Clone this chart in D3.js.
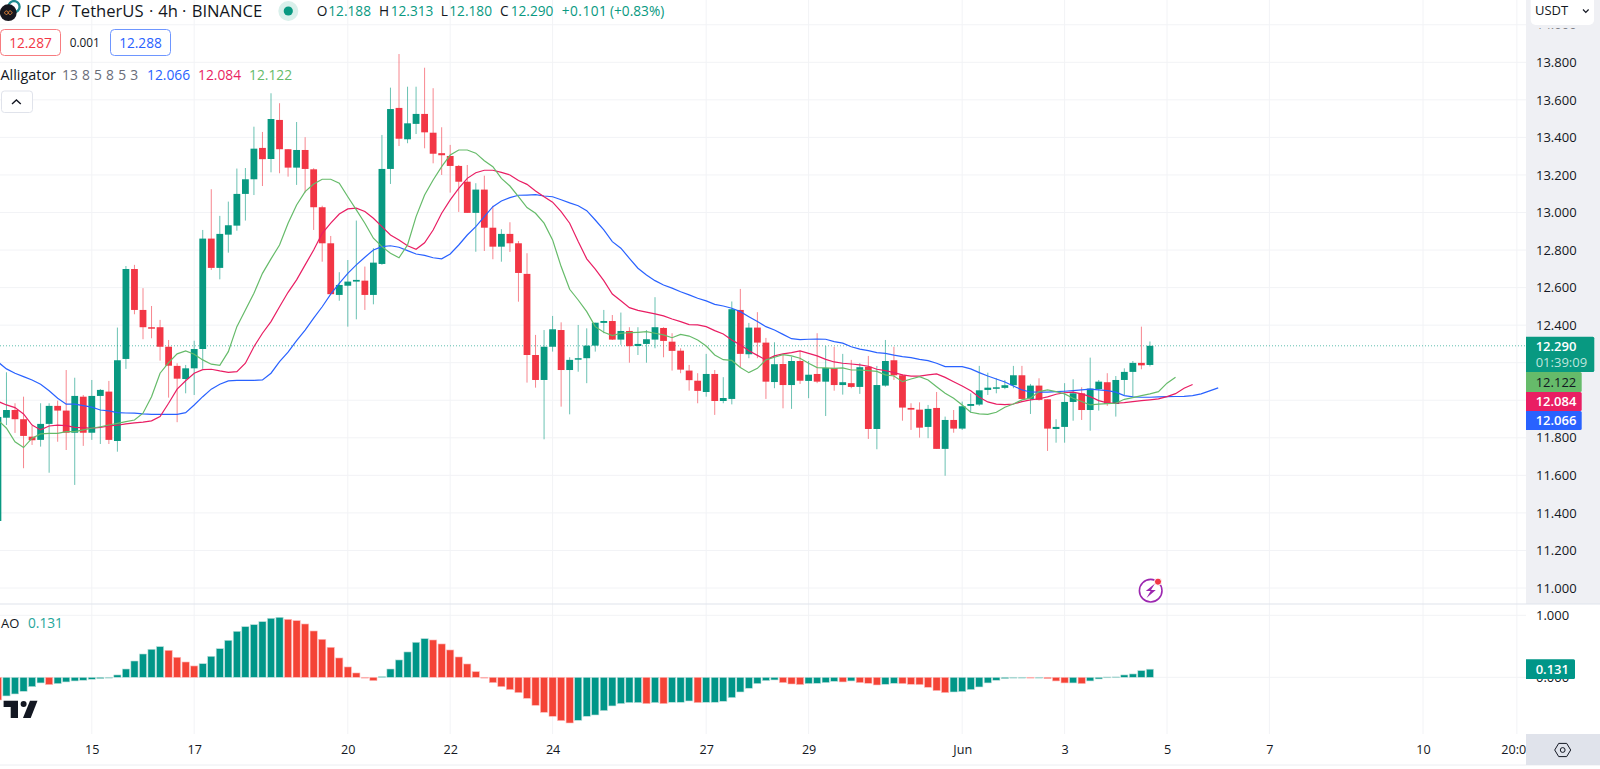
<!DOCTYPE html>
<html>
<head>
<meta charset="utf-8">
<title>ICP / TetherUS 4h</title>
<script src="https://cdn.jsdelivr.net/npm/d3@7"></script>
<style>
    html, body { margin: 0; padding: 0; background: #fff; overflow: hidden; }
    text { font-family: "Open Sans", "Noto Sans", sans-serif; }
</style>
</head>
<body>
<svg id="chart" width="1600" height="769"></svg>
<script>
// bar numbers are counted from the 15th, one bar is 4h
let firstBar = -11

let opens = [11.357, 11.907, 11.948, 11.899, 11.806, 11.789, 11.874, 11.970, 11.945, 11.827, 12.019,
    11.827, 12.023, 12.046, 11.783, 12.220, 12.699, 12.481, 12.389, 12.389, 12.285, 12.183, 12.113, 12.170, 12.273,
    12.861, 12.705, 12.882, 12.930, 13.099, 13.177, 13.344, 13.285, 13.493, 13.337, 13.239, 13.333, 13.230, 13.028,
    12.836, 12.561, 12.610, 12.632, 12.637, 12.561, 12.726, 13.232, 13.557, 13.390, 13.472, 13.525, 13.425, 13.316,
    13.301, 13.248, 13.164, 12.998, 13.122, 12.919, 12.818, 12.886, 12.836, 12.673, 12.241, 12.108, 12.285, 12.374,
    12.161, 12.216, 12.224, 12.291, 12.412, 12.422, 12.323, 12.369, 12.289, 12.300, 12.323, 12.385, 12.312, 12.264,
    12.158, 12.104, 12.044, 12.140, 11.996, 12.007, 12.481, 12.245, 12.387, 12.307, 12.097, 12.193, 12.081, 12.209,
    12.103, 12.140, 12.099, 12.172, 12.081, 12.091, 12.071, 12.179, 11.847, 12.078, 12.213, 12.133, 11.959, 11.950,
    11.858, 11.959, 11.741, 11.895, 11.849, 11.970, 11.977, 12.055, 12.064, 12.066, 12.080, 12.133, 12.007, 12.078,
    12.005, 11.847, 11.858, 11.991, 12.037, 11.948, 12.060, 12.096, 11.980, 12.108, 12.151, 12.199, 12.188]

let highs = [11.932, 12.149, 11.984, 12.019, 11.863, 11.984, 11.984, 11.998, 12.161, 12.120, 12.028,
    12.108, 12.060, 12.103, 12.387, 12.715, 12.721, 12.597, 12.502, 12.428, 12.321, 12.197, 12.188, 12.317, 12.907,
    13.124, 12.982, 13.058, 13.234, 13.237, 13.457, 13.429, 13.635, 13.582, 13.337, 13.482, 13.401, 13.236, 13.036,
    12.875, 12.682, 12.747, 12.957, 12.712, 12.810, 13.413, 13.665, 13.844, 13.670, 13.670, 13.771, 13.662, 13.454,
    13.360, 13.253, 13.253, 13.156, 13.196, 13.036, 12.911, 12.948, 12.848, 12.783, 12.348, 12.374, 12.449, 12.415,
    12.229, 12.401, 12.383, 12.413, 12.481, 12.454, 12.467, 12.389, 12.389, 12.374, 12.549, 12.389, 12.357, 12.277,
    12.188, 12.144, 12.247, 12.161, 12.123, 12.526, 12.593, 12.412, 12.469, 12.332, 12.309, 12.241, 12.232, 12.264,
    12.209, 12.357, 12.289, 12.285, 12.247, 12.215, 12.197, 12.236, 12.183, 12.321, 12.285, 12.139, 11.984, 11.989,
    11.975, 12.044, 11.913, 11.948, 11.993, 12.037, 12.183, 12.147, 12.117, 12.108, 12.183, 12.183, 12.087, 12.117,
    12.005, 11.899, 12.091, 12.112, 12.069, 12.227, 12.108, 12.144, 12.129, 12.170, 12.209, 12.392, 12.313]

let lows = [11.357, 11.868, 11.826, 11.638, 11.762, 11.753, 11.614, 11.779, 11.735, 11.549, 11.757,
    11.789, 11.767, 11.767, 11.726, 12.167, 12.458, 12.325, 12.330, 12.211, 12.014, 11.883, 12.037, 12.028, 12.167,
    12.694, 12.644, 12.786, 12.903, 12.957, 13.093, 13.141, 13.214, 13.209, 13.191, 13.147, 13.106, 12.907, 12.738,
    12.565, 12.530, 12.392, 12.431, 12.481, 12.511, 12.721, 13.152, 13.354, 13.369, 13.418, 13.342, 13.262, 13.200,
    13.106, 13.003, 12.998, 12.791, 12.795, 12.751, 12.738, 12.790, 12.525, 12.094, 12.067, 11.792, 12.259, 11.966,
    11.925, 12.152, 12.091, 12.259, 12.357, 12.321, 12.295, 12.200, 12.241, 12.200, 12.277, 12.229, 12.158, 12.144,
    12.051, 11.984, 12.019, 11.922, 11.984, 11.978, 12.174, 12.224, 12.224, 12.007, 12.064, 11.957, 11.954, 12.087,
    12.011, 12.091, 11.916, 12.051, 12.030, 12.064, 12.034, 11.794, 11.739, 12.072, 12.108, 11.891, 11.842, 11.801,
    11.798, 11.741, 11.598, 11.827, 11.842, 11.934, 11.970, 12.028, 12.037, 12.059, 12.064, 12.007, 11.927, 11.998,
    11.730, 11.774, 11.774, 11.891, 11.895, 11.838, 11.945, 11.970, 11.913, 12.028, 12.016, 12.165, 12.180]

let closes = [11.911, 11.948, 11.899, 11.810, 11.787, 11.874, 11.970, 11.945, 11.827, 12.023, 11.827,
    12.023, 12.055, 11.789, 12.213, 12.699, 12.481, 12.389, 12.385, 12.285, 12.184, 12.115, 12.170, 12.273, 12.861,
    12.705, 12.886, 12.932, 13.099, 13.177, 13.340, 13.284, 13.498, 13.337, 13.239, 13.333, 13.232, 13.028, 12.836,
    12.565, 12.614, 12.632, 12.641, 12.561, 12.733, 13.232, 13.551, 13.393, 13.475, 13.525, 13.427, 13.313, 13.305,
    13.248, 13.164, 12.998, 13.122, 12.919, 12.818, 12.886, 12.836, 12.678, 12.241, 12.108, 12.285, 12.378, 12.161,
    12.215, 12.224, 12.291, 12.413, 12.422, 12.323, 12.369, 12.288, 12.300, 12.325, 12.389, 12.316, 12.263, 12.163,
    12.107, 12.050, 12.140, 11.996, 12.012, 12.485, 12.247, 12.387, 12.307, 12.099, 12.192, 12.081, 12.209, 12.104,
    12.136, 12.099, 12.172, 12.081, 12.096, 12.071, 12.176, 11.847, 12.081, 12.209, 12.133, 11.961, 11.950, 11.854,
    11.954, 11.741, 11.895, 11.849, 11.968, 11.980, 12.053, 12.067, 12.069, 12.080, 12.133, 12.007, 12.078, 12.002,
    11.849, 11.858, 11.991, 12.037, 11.948, 12.062, 12.099, 11.980, 12.108, 12.151, 12.199, 12.186, 12.290]

// Alligator lines, they run past the last bar because of their offsets
let jaw = [12.204, 12.167, 12.144, 12.126, 12.108, 12.085, 12.051, 12.011, 11.979, 11.979, 11.971,
    11.963, 11.948, 11.943, 11.934, 11.932, 11.931, 11.927, 11.925, 11.925, 11.925, 11.925, 11.934, 11.975, 12.019,
    12.059, 12.085, 12.103, 12.106, 12.106, 12.106, 12.108, 12.144, 12.206, 12.256, 12.317, 12.374, 12.437, 12.498,
    12.565, 12.623, 12.676, 12.721, 12.762, 12.800, 12.818, 12.823, 12.815, 12.797, 12.779, 12.772, 12.759, 12.753,
    12.779, 12.827, 12.880, 12.925, 12.978, 13.031, 13.061, 13.079, 13.092, 13.093, 13.095, 13.088, 13.084, 13.068,
    13.051, 13.036, 13.010, 12.960, 12.907, 12.845, 12.810, 12.756, 12.703, 12.667, 12.637, 12.614, 12.597, 12.578,
    12.561, 12.543, 12.529, 12.511, 12.502, 12.490, 12.472, 12.445, 12.419, 12.392, 12.374, 12.351, 12.328, 12.323,
    12.325, 12.326, 12.325, 12.312, 12.304, 12.285, 12.272, 12.264, 12.254, 12.250, 12.240, 12.232, 12.227, 12.218,
    12.211, 12.197, 12.179, 12.179, 12.179, 12.167, 12.147, 12.129, 12.113, 12.097, 12.076, 12.055, 12.044, 12.043,
    12.043, 12.046, 12.048, 12.051, 12.055, 12.059, 12.055, 12.051, 12.043, 12.025, 12.018, 12.016, 12.016,
    12.018, 12.019, 12.020, 12.021, 12.025, 12.034, 12.050, 12.066]

let teeth = [11.994, 11.975, 11.961, 11.927, 11.868, 11.842, 11.863, 11.867, 11.865, 11.856, 11.854,
    11.851, 11.856, 11.863, 11.867, 11.874, 11.879, 11.883, 11.890, 11.913, 11.984, 12.059, 12.104, 12.144, 12.163,
    12.165, 12.156, 12.149, 12.152, 12.197, 12.285, 12.357, 12.419, 12.498, 12.575, 12.641, 12.721, 12.800, 12.889,
    12.943, 12.992, 13.019, 13.023, 13.005, 12.969, 12.925, 12.880, 12.854, 12.823, 12.804, 12.839, 12.907, 12.996,
    13.067, 13.129, 13.182, 13.212, 13.225, 13.225, 13.214, 13.200, 13.170, 13.150, 13.115, 13.084, 13.055, 13.005,
    12.943, 12.845, 12.753, 12.698, 12.637, 12.566, 12.530, 12.493, 12.479, 12.469, 12.460, 12.449, 12.433, 12.419,
    12.403, 12.401, 12.392, 12.371, 12.353, 12.321, 12.295, 12.264, 12.239, 12.215, 12.236, 12.247, 12.254, 12.263,
    12.250, 12.236, 12.218, 12.204, 12.197, 12.193, 12.188, 12.181, 12.165, 12.158, 12.147, 12.135, 12.129, 12.129,
    12.135, 12.140, 12.122, 12.099, 12.076, 12.051, 12.016, 11.991, 11.979, 11.977, 11.980, 11.993, 12.002, 12.008,
    12.018, 12.032, 12.040, 12.043, 12.034, 12.019, 11.998, 11.986, 11.984, 11.987, 11.993, 11.998, 12.002,
    12.007, 12.019, 12.035, 12.064, 12.084]

let lips = [11.895, 11.851, 11.779, 11.748, 11.798, 11.821, 11.824, 11.824, 11.833, 11.833, 11.842,
    11.851, 11.859, 11.868, 11.877, 11.886, 11.895, 11.931, 12.019, 12.144, 12.200, 12.247, 12.263, 12.245, 12.215,
    12.192, 12.186, 12.259, 12.392, 12.481, 12.570, 12.676, 12.753, 12.827, 12.943, 13.040, 13.111, 13.152, 13.177,
    13.177, 13.156, 13.084, 13.014, 12.943, 12.863, 12.818, 12.783, 12.759, 12.827, 12.978, 13.093, 13.173, 13.244,
    13.306, 13.333, 13.333, 13.316, 13.276, 13.244, 13.182, 13.141, 13.084, 13.026, 12.996, 12.943, 12.854, 12.712,
    12.591, 12.534, 12.472, 12.392, 12.362, 12.344, 12.357, 12.360, 12.362, 12.365, 12.357, 12.348, 12.333, 12.351,
    12.342, 12.321, 12.289, 12.241, 12.216, 12.212, 12.174, 12.147, 12.170, 12.215, 12.229, 12.243, 12.236, 12.224,
    12.197, 12.174, 12.172, 12.170, 12.172, 12.161, 12.161, 12.158, 12.154, 12.135, 12.129, 12.099, 12.113, 12.126,
    12.108, 12.072, 12.037, 12.011, 11.975, 11.936, 11.927, 11.925, 11.936, 11.963, 11.980, 12.002, 12.011, 12.046,
    12.055, 12.046, 12.034, 12.011, 11.993, 11.975, 11.979, 11.982, 11.984, 12.005, 12.014, 12.025, 12.034,
    12.046, 12.091, 12.122]

// Awesome Oscillator, one column per bar
let aoValues = [-0.366, -0.301, -0.269, -0.226, -0.151, -0.091, -0.118, -0.102, -0.075, -0.059, -0.048,
    -0.032, -0.022, -0.011, 0.038, 0.134, 0.263, 0.376, 0.452, 0.495, 0.435, 0.323, 0.247, 0.183, 0.220,
    0.339, 0.462, 0.597, 0.742, 0.817, 0.849, 0.898, 0.952, 0.968, 0.935, 0.914, 0.860, 0.747, 0.613,
    0.484, 0.312, 0.167, 0.070, -0.005, -0.054, 0.011, 0.134, 0.280, 0.409, 0.565, 0.624, 0.602, 0.538,
    0.441, 0.328, 0.215, 0.091, -0.003, -0.086, -0.151, -0.199, -0.247, -0.339, -0.452, -0.565, -0.629, -0.699,
    -0.737, -0.694, -0.629, -0.608, -0.538, -0.462, -0.425, -0.409, -0.409, -0.425, -0.409, -0.425, -0.403, -0.403,
    -0.382, -0.409, -0.403, -0.403, -0.387, -0.328, -0.237, -0.177, -0.102, -0.054, -0.043, -0.086, -0.108, -0.118,
    -0.102, -0.097, -0.086, -0.065, -0.075, -0.059, -0.086, -0.097, -0.124, -0.113, -0.097, -0.102, -0.113, -0.118,
    -0.161, -0.215, -0.247, -0.237, -0.231, -0.199, -0.156, -0.091, -0.048, -0.022, -0.005, -0.003, -0.006, -0.004,
    -0.022, -0.059, -0.091, -0.091, -0.102, -0.059, -0.027, 0.005, 0.006, 0.038, 0.054, 0.108, 0.131]

let priceTicks = [11, 11.2, 11.4, 11.6, 11.8, 12, 12.2, 12.4, 12.6, 12.8, 13, 13.2, 13.4, 13.6, 13.8, 14]
// 12.000 and 12.200 sit behind the value tags, so they get a grid line but no label
let priceLabels = [11, 11.2, 11.4, 11.6, 11.8, 12.4, 12.6, 12.8, 13, 13.2, 13.4, 13.6, 13.8, 14]
let aoTicks = [0, 1]
let timeTicks = [0, 12, 30, 42, 54, 72, 84, 102, 114, 126, 138, 156, 167]
let timeLabels = ["15", "17", "20", "22", "24", "27", "29", "Jun", "3", "5", "7", "10", "20:00"]

let legendOhlc = [
    ["O", "12.188", 316.7, 328.3],
    ["H", "12.313", 379, 390.7],
    ["L", "12.180", 440.7, 449.3],
    ["C", "12.290", 500, 510.7]
]
let headerParts = [
    ["ICP", 26], ["/", 58.3], ["TetherUS", 71.7], ["·", 149], ["4h", 158.3], ["·", 182], ["BINANCE", 191.7]
]

const green = "#089981"
const red = "#F23645"
const aoGreen = "#009688"
const aoRed = "#F44336"
const jawColor = "#2962FF"
const teethColor = "#E91E63"
const lipsColor = "#66BB6A"
const textColor = "#131722"
const gridColor = "#f2f3f6"
const axisBg = "#eff0f4"

const paneRight = 1526
const paneBottom = 604
const timeTop = 734
const timeBottom = 765

let svg = d3.select("#chart")

let x = d3.scaleLinear().domain([0, 126]).range([91.8, 1167])
let y = d3.scaleLinear().domain([11, 13.8]).range([588, 62.3])
let aoY = d3.scaleLinear().domain([0, 1]).range([677.3, 615.3])

let defs = svg.append("defs")
defs.append("clipPath").attr("id", "mainClip")
    .append("rect").attr("width", paneRight).attr("height", paneBottom)
defs.append("clipPath").attr("id", "aoClip")
    .append("rect").attr("y", paneBottom).attr("width", paneRight).attr("height", timeTop - paneBottom)

// grey price axis panel first, everything else sits on it
svg.append("rect").attr("x", paneRight).attr("y", 0)
    .attr("width", 1600 - paneRight).attr("height", paneBottom).attr("fill", axisBg)

// Grid
let grid = svg.append("g")
grid.selectAll(".v").data(timeTicks).join("line")
    .attr("x1", d => x(d)).attr("x2", d => x(d))
    .attr("y1", 0).attr("y2", timeTop)
    .attr("stroke", gridColor)
grid.selectAll(".h").data(priceTicks).join("line").attr("class", "h")
    .attr("x1", 0).attr("x2", paneRight)
    .attr("y1", d => y(d)).attr("y2", d => y(d))
    .attr("stroke", gridColor)
grid.selectAll(".a").data(aoTicks).join("line").attr("class", "a")
    .attr("x1", 0).attr("x2", paneRight)
    .attr("y1", d => aoY(d)).attr("y2", d => aoY(d))
    .attr("stroke", gridColor)

// Last price line
svg.append("line")
    .attr("x1", 0).attr("x2", paneRight)
    .attr("y1", y(12.29)).attr("y2", y(12.29))
    .attr("stroke", green).attr("stroke-opacity", 0.65)
    .attr("stroke-dasharray", "1 2")

// Candles
let bars = opens.map((o, k) => ({
    bar: firstBar + k, o: o, h: highs[k], l: lows[k], c: closes[k]
}))
let candles = svg.append("g").attr("clip-path", "url(#mainClip)")
candles.selectAll("line").data(bars).join("line")
    .attr("x1", d => x(d.bar)).attr("x2", d => x(d.bar))
    .attr("y1", d => y(d.h)).attr("y2", d => y(d.l))
    .attr("stroke", d => d.c >= d.o ? green : red)
    .attr("stroke-opacity", 0.6)
candles.selectAll("rect").data(bars).join("rect")
    .attr("x", d => x(d.bar) - 3.4)
    .attr("width", 6.8)
    .attr("y", d => y(Math.max(d.o, d.c)))
    .attr("height", d => Math.max(1.5, Math.abs(y(d.o) - y(d.c))))
    .attr("fill", d => d.c >= d.o ? green : red)

// Alligator
let line = d3.line().x((d, k) => x(firstBar + k)).y(d => y(d))
let alligator = svg.append("g").attr("clip-path", "url(#mainClip)").attr("fill", "none")
alligator.append("path").attr("d", line(jaw)).attr("stroke", jawColor).attr("stroke-width", 1.2)
alligator.append("path").attr("d", line(teeth)).attr("stroke", teethColor).attr("stroke-width", 1.2)
alligator.append("path").attr("d", line(lips)).attr("stroke", lipsColor).attr("stroke-width", 1.2)

// AO columns, red when lower than the column before
let columns = svg.append("g").attr("clip-path", "url(#aoClip)")
columns.selectAll("rect").data(aoValues).join("rect")
    .attr("x", (d, k) => x(firstBar + k) - 3.6)
    .attr("width", 7.2)
    .attr("y", d => Math.min(aoY(d), aoY(0)))
    .attr("height", d => Math.max(0.8, Math.abs(aoY(d) - aoY(0))))
    .attr("fill", (d, k) => k == 0 || d < aoValues[k - 1] ? aoRed : aoGreen)
    .attr("stroke", (d, k) => k == 0 || d < aoValues[k - 1] ? "#fbb" : "#bfe0dc")
    .attr("stroke-width", 0.6)

// Price axis
let priceAxis = svg.append("g").attr("transform", `translate(${paneRight},0)`)
    .call(d3.axisRight(y).tickValues(priceLabels).tickFormat(d3.format(".3f")).tickSize(0).tickPadding(10))
let aoAxis = svg.append("g").attr("transform", `translate(${paneRight},0)`)
    .call(d3.axisRight(aoY).tickValues(aoTicks).tickFormat(d3.format(".3f")).tickSize(0).tickPadding(10))
for (let axis of [priceAxis, aoAxis]) {
    axis.select(".domain").remove()
    axis.selectAll("text").attr("font-size", 13).attr("fill", textColor).attr("font-family", null)
}

// Time axis
let timeAxis = svg.append("g").attr("transform", `translate(0,${timeTop})`)
    .call(d3.axisBottom(x).tickValues(timeTicks).tickFormat((d, k) => timeLabels[k]).tickSize(0).tickPadding(11))
timeAxis.select(".domain").remove()
timeAxis.selectAll("text").attr("font-size", 12.6).attr("fill", textColor).attr("font-family", null)

// Separators
svg.append("line").attr("x1", 0).attr("x2", 1600).attr("y1", paneBottom).attr("y2", paneBottom)
    .attr("stroke", "#e0e3eb").attr("stroke-width", 1.2)
svg.append("line").attr("x1", 0).attr("x2", 1600).attr("y1", timeBottom).attr("y2", timeBottom)
    .attr("stroke", "#eceef2")

// Settings button in the corner
svg.append("rect").attr("x", paneRight).attr("y", timeTop)
    .attr("width", 1600 - paneRight).attr("height", timeBottom - timeTop).attr("fill", "#e0e3eb")
svg.append("path").attr("d", "M1554.7,750 l4,-6.6 h8 l4,6.6 l-4,6.6 h-8 z")
    .attr("fill", "none").attr("stroke", textColor).attr("stroke-width", 1)
svg.append("circle").attr("cx", 1562.7).attr("cy", 750).attr("r", 2.4)
    .attr("fill", "none").attr("stroke", textColor).attr("stroke-width", 1)

// Currency box, it hides most of the 14.000 label
svg.append("rect").attr("x", paneRight).attr("y", 0).attr("width", 74).attr("height", 28.5).attr("fill", axisBg)
svg.append("rect").attr("x", 1530.7).attr("y", -6).attr("width", 63.3).attr("height", 31).attr("rx", 5).attr("fill", "#fff")
svg.append("text").attr("x", 1535).attr("y", 15).attr("font-size", 13).attr("fill", textColor).text("USDT")
svg.append("path").attr("d", "M1583,9.5 l2.8,2.8 l2.8,-2.8")
    .attr("fill", "none").attr("stroke", textColor).attr("stroke-width", 1.2)

// Value tags on the axes
function tag(top, bottom, right, fill) {
    return svg.append("path")
        .attr("d", `M${paneRight},${top} H${right - 1.5} q1.5,0 1.5,1.5 V${bottom - 1.5} q0,1.5 -1.5,1.5 H${paneRight} Z`)
        .attr("fill", fill)
}
function tagText(value, textY, fill, size) {
    return svg.append("text").attr("x", 1535.7).attr("y", textY)
        .attr("dy", "0.35em").attr("font-size", size || 13).attr("font-weight", 600)
        .attr("fill", fill).text(value)
}
tag(336.7, 372, 1594.3, green)
tagText("12.290", 346.8, "#fff")
tagText("01:39:09", 362.7, "#bfe5dd").attr("font-weight", 400)
tag(372, 392, 1581.7, lipsColor)
tagText("12.122", 382, textColor).attr("font-weight", 400)
tag(392, 411, 1581.7, teethColor)
tagText("12.084", 401.3, "#fff")
tag(411, 430, 1581.7, jawColor)
tagText("12.066", 420.7, "#fff")
tag(659.3, 679, 1575, aoGreen)
tagText("0.131", 669.7, "#fff").attr("x", 1535.7)

// Header
svg.append("g").selectAll("text").data(headerParts).join("text")
    .attr("x", d => d[1]).attr("y", 16.5)
    .attr("font-size", 16.6).attr("fill", textColor).text(d => d[0])

// Coin icon
svg.append("circle").attr("cx", 14).attr("cy", 6.7).attr("r", 5.6)
    .attr("fill", "#fff").attr("stroke", "#1f8a8f").attr("stroke-width", 2.4)
svg.append("circle").attr("cx", 8.3).attr("cy", 12.7).attr("r", 8.4).attr("fill", "#17171f")
svg.append("path").attr("d", "M4.5,12.7 c1,-2.4 3,-2.4 3.8,0 c0.8,2.4 2.8,2.4 3.8,0 c-1,-2.4 -3,-2.4 -3.8,0 c-0.8,2.4 -2.8,2.4 -3.8,0 z")
    .attr("fill", "none").attr("stroke", "#e0843a").attr("stroke-width", 1)

svg.append("circle").attr("cx", 288.3).attr("cy", 11).attr("r", 10).attr("fill", "#d9f0eb")
svg.append("circle").attr("cx", 288.3).attr("cy", 11).attr("r", 4.6).attr("fill", green)

// OHLC legend
let ohlc = svg.append("g").attr("font-size", 13.7)
ohlc.selectAll(".k").data(legendOhlc).join("text").attr("class", "k")
    .attr("x", d => d[2]).attr("y", 16).attr("fill", textColor).text(d => d[0])
ohlc.selectAll(".v").data(legendOhlc).join("text").attr("class", "v")
    .attr("x", d => d[3]).attr("y", 16).attr("fill", green).text(d => d[1])
ohlc.append("text").attr("x", 561.7).attr("y", 16).attr("fill", green).attr("letter-spacing", 0.5).text("+0.101")
ohlc.append("text").attr("x", 610).attr("y", 16).attr("fill", green).text("(+0.83%)")

// Bid / ask boxes
svg.append("rect").attr("x", 0.5).attr("y", 29.5).attr("width", 60).attr("height", 26).attr("rx", 4)
    .attr("fill", "#fff").attr("stroke", "#f77c80")
svg.append("rect").attr("x", 110.5).attr("y", 29.5).attr("width", 60).attr("height", 26).attr("rx", 4)
    .attr("fill", "#fff").attr("stroke", "#6e96ff")
svg.append("text").attr("x", 30.5).attr("y", 43).attr("dy", "0.35em").attr("text-anchor", "middle")
    .attr("font-size", 13.7).attr("fill", red).text("12.287")
svg.append("text").attr("x", 140.5).attr("y", 43).attr("dy", "0.35em").attr("text-anchor", "middle")
    .attr("font-size", 13.7).attr("fill", jawColor).text("12.288")
svg.append("text").attr("x", 84.7).attr("y", 43).attr("dy", "0.35em").attr("text-anchor", "middle")
    .attr("font-size", 11.8).attr("fill", textColor).text("0.001")

// Indicator legend
let indicator = svg.append("g").attr("font-size", 13.8)
indicator.append("text").attr("x", 0.5).attr("y", 79.5).attr("font-size", 14.4).attr("fill", textColor).text("Alligator")
indicator.append("text").attr("x", 62).attr("y", 79.5).attr("fill", "#6a6d78").attr("word-spacing", 0.6).text("13 8 5 8 5 3")
indicator.append("text").attr("x", 147).attr("y", 79.5).attr("fill", jawColor).text("12.066")
indicator.append("text").attr("x", 198).attr("y", 79.5).attr("fill", teethColor).text("12.084")
indicator.append("text").attr("x", 249).attr("y", 79.5).attr("fill", lipsColor).text("12.122")

// Collapse button
svg.append("rect").attr("x", 1.5).attr("y", 91).attr("width", 31).attr("height", 21.5).attr("rx", 3)
    .attr("fill", "#fff").attr("stroke", "#e0e3eb")
svg.append("path").attr("d", "M12,104 l4.4,-4 l4.4,4")
    .attr("fill", "none").attr("stroke", textColor).attr("stroke-width", 1.4)

// AO legend
svg.append("text").attr("x", 1).attr("y", 628).attr("font-size", 13).attr("fill", textColor).text("AO")
svg.append("text").attr("x", 28).attr("y", 628).attr("font-size", 13.7).attr("fill", "#26a69a").text("0.131")

// TradingView mark
let logo = svg.append("g").attr("fill", textColor)
logo.append("path").attr("d", "M3.6,700.7 H18 V718 H10.7 V707 H3.6 Z")
logo.append("circle").attr("cx", 23.6).attr("cy", 704).attr("r", 3)
logo.append("path").attr("d", "M30,700.7 H37.5 L30.7,718 H23 Z")

// Lightning badge
svg.append("circle").attr("cx", 1150.7).attr("cy", 590.7).attr("r", 11.3)
    .attr("fill", "#fff").attr("stroke", "#9c27b0").attr("stroke-width", 1.6)
svg.append("path").attr("d", "M1155,583.5 L1145.8,591 H1150.6 L1146.5,598 L1155.8,590 H1151 Z").attr("fill", "#9c27b0")
svg.append("circle").attr("cx", 1158).attr("cy", 581.7).attr("r", 3.6)
    .attr("fill", "#f23645").attr("stroke", "#fff").attr("stroke-width", 1)
</script>
</body>
</html>
